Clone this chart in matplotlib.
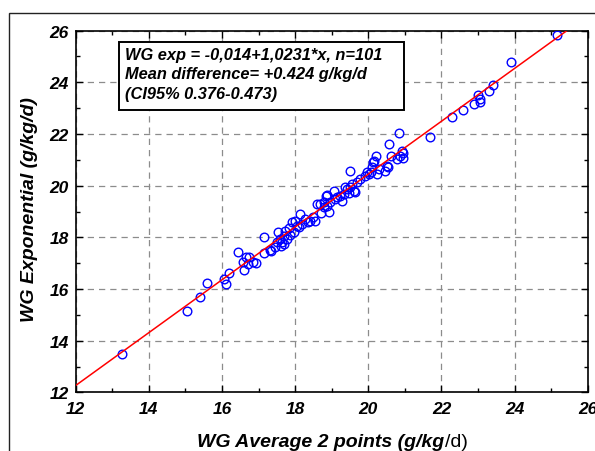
import matplotlib
matplotlib.use('agg')
import matplotlib.pyplot as plt
import matplotlib.patches as mpatches
from matplotlib.ticker import MultipleLocator
import numpy as np

# WG measured by averaging 2 points vs. exponential fit (g/kg/d)
wg_avg2 = [13.28, 15.05, 15.41, 15.60, 16.07, 16.11, 16.18, 16.43, 16.58, 16.60,
           16.66, 16.73, 16.70, 16.86, 16.93, 17.16, 17.14, 17.30, 17.35, 17.52,
           17.51, 17.58, 17.62, 17.64, 17.69, 17.73, 17.78, 17.82, 17.92, 17.96,
           18.00, 18.11, 18.14, 18.19, 18.28, 18.34, 18.42, 18.55, 18.60, 18.69,
           18.80, 18.85, 18.92, 17.85, 18.05, 17.70, 18.78, 18.87, 18.96, 19.05,
           18.87, 19.10, 19.23, 19.33, 19.46, 19.37, 19.42, 19.60, 19.65, 19.56,
           19.69, 19.78, 19.49, 19.92, 19.96, 20.01, 20.07, 20.10, 20.12, 20.15,
           20.22, 20.45, 20.51, 20.24, 20.62, 20.78, 20.86, 20.96, 20.92, 20.96,
           20.57, 20.85, 21.69, 18.50, 18.70, 19.15, 19.28, 19.50, 20.30, 20.55,
           22.28, 22.58, 22.90, 23.04, 23.06, 23.01, 23.31, 23.42, 23.89, 25.17,
           17.45]
wg_exp = [13.47, 15.15, 15.70, 16.24, 16.40, 16.20, 16.62, 17.44, 17.06, 16.73,
          17.22, 17.25, 16.95, 17.03, 16.99, 18.00, 17.40, 17.52, 17.47, 18.22,
          17.81, 17.93, 17.68, 17.81, 18.06, 18.26, 17.92, 18.35, 18.58, 18.19,
          18.64, 18.39, 18.90, 18.51, 18.71, 18.58, 18.64, 18.64, 19.29, 19.29,
          19.16, 19.61, 18.97, 18.10, 18.45, 17.75, 19.35, 19.20, 19.38, 19.80,
          19.64, 19.48, 19.61, 19.67, 19.71, 19.93, 19.87, 19.80, 19.74, 20.06,
          20.13, 20.26, 20.55, 20.38, 20.52, 20.45, 20.52, 20.71, 20.90, 20.96,
          21.16, 20.58, 20.77, 20.45, 21.13, 21.03, 21.16, 21.09, 21.33, 21.25,
          21.61, 22.03, 21.87, 18.80, 18.95, 19.55, 19.40, 19.95, 20.65, 20.71,
          22.67, 22.91, 23.16, 23.35, 23.22, 23.50, 23.67, 23.90, 24.78, 25.85,
          17.62]

intercept = -0.014
slope = 1.0231
fit_x = [12, 26]

box_lines = ['WG exp = -0,014+1,0231*x, n=101',
             'Mean difference= +0.424 g/kg/d',
             '(CI95% 0.376-0.473)']

FONT = 'Liberation Sans'
plt.rcParams['font.family'] = [FONT, 'DejaVu Sans']

fig = plt.figure(figsize=(5.95, 4.52), dpi=100)
ax = fig.add_axes([0.127, 0.1297, 0.861, 0.8003])

# outer frame of the original figure (runs off right/bottom edge)
fig.patches.append(mpatches.Rectangle((9/595, -0.2), 1.5, 0.969 + 0.2,
                                      transform=fig.transFigure, fill=False,
                                      ec='#222222', lw=1.0))

ax.plot(wg_avg2, wg_exp, 'o', ms=6.2, mfc='none', mec='blue', mew=1.0, zorder=3)
fx = np.array(fit_x, dtype=float)
ax.plot(fx, intercept + slope*fx, color='red', lw=1.1, zorder=4)

ax.set_xlim(12, 26)
ax.set_ylim(12, 26)
ax.xaxis.set_major_locator(MultipleLocator(2))
ax.yaxis.set_major_locator(MultipleLocator(2))
ax.xaxis.set_minor_locator(MultipleLocator(1))
ax.yaxis.set_minor_locator(MultipleLocator(1))
ax.grid(True, which='major', color='#8c8c8c', ls=(0, (5, 4)), lw=0.9, zorder=1)
ax.tick_params(which='both', direction='in', top=True, right=True, width=1.0)
ax.tick_params(which='major', length=5)
ax.tick_params(which='minor', length=3)
ax.tick_params(axis='x', pad=6)
ax.tick_params(axis='y', pad=5)
for lab in ax.get_xticklabels() + ax.get_yticklabels():
    lab.set_fontsize(12.5)
    lab.set_fontweight('bold')
    lab.set_fontstyle('italic')
for sp in ax.spines.values():
    sp.set_linewidth(1.2)

# annotation box
ax.add_patch(mpatches.Rectangle((0.0849, 0.780), 0.556, 0.188, transform=ax.transAxes,
                                fc='white', ec='black', lw=1.4, zorder=5))
ax.text(0.097, 0.955, '\n'.join(box_lines), transform=ax.transAxes, ha='left', va='top',
        fontsize=11.8, fontweight='bold', fontstyle='italic', linespacing=1.37, zorder=6)

# y label
fig.text(30/595, 1 - 210/452, 'WG Exponential (g/kg/d)', rotation=90, ha='center',
         va='center', fontsize=14, fontweight='bold', fontstyle='italic')

# x label: bold italic part then regular "/d)"
part1 = fig.text(0, 0, 'WG Average 2 points (g/kg', fontsize=14,
                 fontweight='bold', fontstyle='italic', va='baseline')
part2 = fig.text(0, 0, '/d)', fontsize=14, va='baseline')
r = fig.canvas.get_renderer()
w1 = part1.get_window_extent(r).width
w2 = part2.get_window_extent(r).width
x0 = 332 - (w1 + w2)/2
base = 452 - 447
part1.set_position((x0/595, base/452))
part2.set_position(((x0 + w1 + 1)/595, base/452))

fig.savefig('out.png', dpi=100)
